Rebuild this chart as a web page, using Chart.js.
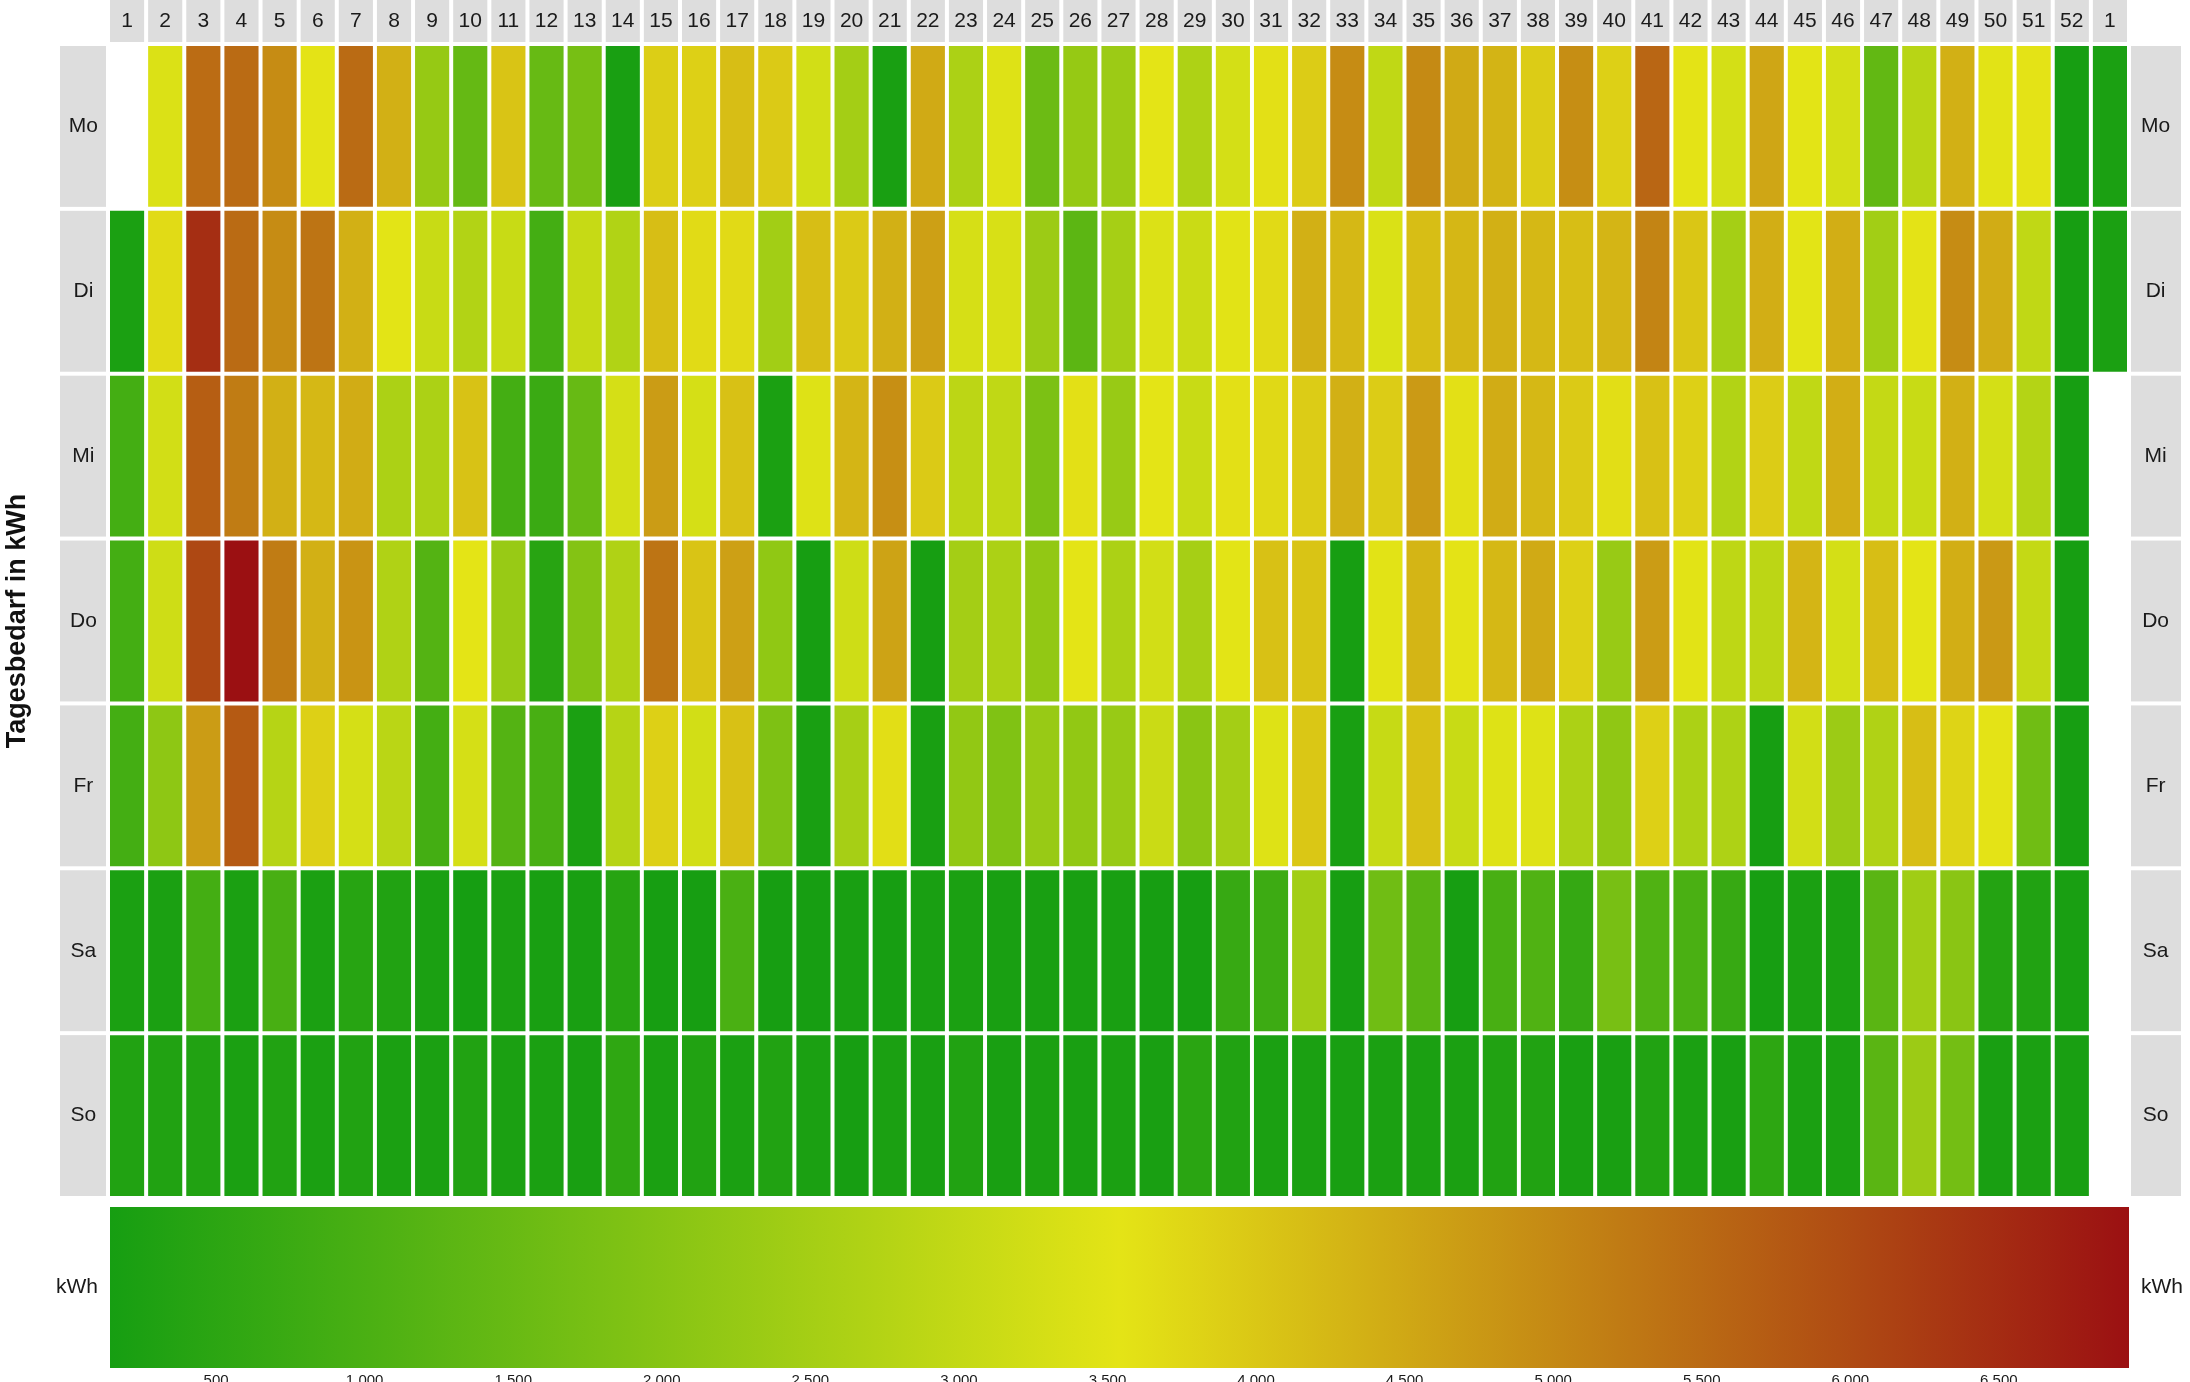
<!DOCTYPE html>
<html>
<head>
<meta charset="utf-8">
<title>Tagesbedarf in kWh</title>
<script src="https://cdn.jsdelivr.net/npm/chart.js@4.4.1/dist/chart.umd.min.js"></script>
<style>
  body { margin: 0; background: #fff; }
  #wrap { position: relative; width: 2190px; height: 1382px; overflow: hidden; }
  #heatChart { position: absolute; left: 0; top: 0; }
  #barChart { position: absolute; left: 0; top: 1198px; }
</style>
</head>
<body>
<div id="wrap">
  <canvas id="heatChart" width="2190" height="1198"></canvas>
  <canvas id="barChart" width="2190" height="184"></canvas>
</div>
<script>
// Kalenderwochen (die letzte Spalte ist KW 1 des Folgejahres)
const weeks = ['1','2','3','4','5','6','7','8','9','10','11','12','13','14','15','16','17','18','19','20',
  '21','22','23','24','25','26','27','28','29','30','31','32','33','34','35','36','37','38','39','40',
  '41','42','43','44','45','46','47','48','49','50','51','52','1'];
const days = ['Mo', 'Di', 'Mi', 'Do', 'Fr', 'Sa', 'So'];

// Tagesbedarf in kWh je Wochentag und KW (null = kein Wert)
const kwhMo = [null,3400,5460,5480,4950,3560,5480,4370,2250,1450, 4050,1480,1750,200,3900,3860,4150,3950,3240,2480,
  200,4470,2620,3440,1560,2250,2350,3540,2650,3280, 3600,3920,4950,2950,4980,4470,4310,3920,4920,3860,
  5560,3560,3280,4530,3520,3280,1400,2820,4370,3500, 3560,160,230];
const kwhDi = [220,3680,6450,5480,4950,5340,4370,3520,3080,2720, 3080,900,3050,2700,4150,3680,3700,2450,4150,3950,
  4370,4630,3310,3340,2350,1300,2520,3410,3110,3500, 3700,4370,4250,3380,4150,4260,4370,4250,4150,4300,
  5080,4020,2500,4400,3520,4400,2450,3560,4950,4430, 2950,160,230];
const kwhMi = [900,3240,5690,5210,4370,4250,4430,2620,2620,4080, 900,740,1480,3300,4690,3300,4100,220,3440,4300,
  4900,3950,2880,2950,1820,3600,2280,3540,3080,3600, 3720,3920,4370,3920,4720,3600,4430,4250,3950,3640,
  4100,3860,2720,3920,2950,4400,3010,3080,4370,3280, 2750,160,null];
const kwhDo = [900,3180,6040,6938,5210,4370,4820,2690,1170,3540, 2280,440,1960,2690,5340,4060,4630,2160,160,3180,
  4590,160,2480,2620,2190,3540,2620,3240,2520,3520, 4100,4060,160,3500,4300,3560,4250,4470,3860,2280,
  4690,3500,2910,2880,4300,3280,4150,3540,4400,4740, 3010,160,null];
const kwhFr = [900,2120,4690,5750,2780,3860,3300,2850,900,3300, 1170,970,220,2780,3860,3240,4100,1850,190,2520,
  3640,190,2190,1890,2280,2190,2280,3110,2060,2480, 3440,4000,190,3040,4100,3080,3440,3440,2620,2150,
  3860,2620,2650,160,3240,2350,2690,4150,3800,3560, 1630,160,null];
const kwhSa = [220,220,900,220,970,220,420,330,220,143, 220,190,190,420,160,160,1000,160,160,190,
  160,190,220,190,190,190,190,160,160,680, 780,2450,160,1630,1230,160,970,1100,650,1760,
  1100,1000,680,160,220,220,1260,2420,2060,380, 330,190,null];
const kwhSo = [330,330,330,220,330,220,330,220,220,330, 220,220,190,560,220,330,220,330,220,160,
  220,190,330,190,220,190,220,200,480,330, 220,220,190,220,220,220,330,330,190,190,
  330,220,190,520,220,220,1260,2350,1690,190, 220,190,null];

// Beschriftung der Farbskala
const colorTicks = [500, 1000, 1500, 2000, 2500, 3000, 3500, 4000, 4500, 5000, 5500, 6000, 6500];

const rows = [kwhMo, kwhDi, kwhMi, kwhDo, kwhFr, kwhSa, kwhSo];
const allValues = rows.flat().filter(v => v !== null);
const minKwh = Math.min(...allValues);
const maxKwh = Math.max(...allValues);

// Farbverlauf gruen -> gelb -> rot
const green = [22, 158, 18];
const yellow = [228, 228, 22];
const red = [155, 16, 18];

function mix(a, b, t) {
  const c = a.map((v, i) => Math.round(v + (b[i] - v) * t));
  return `rgb(${c[0]}, ${c[1]}, ${c[2]})`;
}

function kwhColor(v) {
  const t = (v - minKwh) / (maxKwh - minKwh);
  return t < 0.5 ? mix(green, yellow, t * 2) : mix(yellow, red, (t - 0.5) * 2);
}

function formatDe(v) {
  return String(v).replace(/\B(?=(\d{3})+(?!\d))/g, '.');
}

Chart.defaults.font.family = '"Liberation Sans", Arial, sans-serif';
Chart.defaults.color = '#1a1a1a';

const labelFont = { size: 21 };
const noGrid = { display: false, drawTicks: false };

// graue Kaesten hinter Wochen- und Tagesbeschriftung
const labelBoxes = {
  id: 'labelBoxes',
  beforeDraw(chart) {
    const { ctx, chartArea, scales: { x, y } } = chart;
    const half = (x.getPixelForValue(1) - x.getPixelForValue(0)) / 2;
    ctx.save();
    ctx.fillStyle = '#dddddd';
    weeks.forEach((_, i) => {
      const cx = x.getPixelForValue(i);
      ctx.fillRect(cx - half + 2, 0, 2 * half - 4, chartArea.top - 2);
    });
    days.forEach((_, d) => {
      const top = y.getPixelForValue(d) + 2;
      const bottom = y.getPixelForValue(d + 1) - 2;
      ctx.fillRect(chartArea.left - 48, top, 46, bottom - top);
      ctx.fillRect(chartArea.right + 2, top, 50, bottom - top);
    });
    ctx.restore();
  }
};

function dayAxis(position, width, padding, withTitle) {
  return {
    type: 'linear',
    position: position,
    min: 0,
    max: 7,
    reverse: true,
    grid: noGrid,
    border: { display: false },
    afterBuildTicks: s => { s.ticks = days.map((_, i) => ({ value: i + 0.5 })); },
    ticks: {
      callback: v => days[Math.floor(v)],
      crossAlign: 'center',
      padding: padding,
      font: labelFont,
      autoSkip: false
    },
    title: {
      display: withTitle,
      text: 'Tagesbedarf in kWh',
      color: '#111',
      font: { size: 27, weight: 'bold' },
      padding: { top: 1, bottom: 0 }
    },
    afterFit: s => { s.width = width; s.paddingTop = 0; s.paddingBottom = 0; }
  };
}

const heatDatasets = rows.map((row, d) => ({
  label: days[d],
  data: row.map(v => v === null ? null : [d, d + 1]),
  backgroundColor: row.map(v => v === null ? 'rgba(0,0,0,0)' : kwhColor(v)),
  borderColor: '#ffffff',
  borderWidth: 2,
  borderSkipped: false,
  inflateAmount: 0,
  grouped: false,
  barPercentage: 1,
  categoryPercentage: 1
}));

new Chart(document.getElementById('heatChart'), {
  type: 'bar',
  data: { labels: weeks, datasets: heatDatasets },
  options: {
    responsive: false,
    animation: false,
    layout: { padding: 0 },
    plugins: { legend: { display: false }, tooltip: { enabled: false } },
    scales: {
      x: {
        type: 'category',
        position: 'top',
        grid: noGrid,
        border: { display: false },
        ticks: { font: labelFont, padding: 10, maxRotation: 0, autoSkip: false },
        afterFit: s => { s.height = 44; s.paddingLeft = 0; s.paddingRight = 0; }
      },
      y: dayAxis('left', 108, 10, true),
      yRight: dayAxis('right', 61, 12, false)
    }
  },
  plugins: [labelBoxes]
});

// Farbskala unten
new Chart(document.getElementById('barChart'), {
  type: 'bar',
  data: {
    labels: ['kWh'],
    datasets: [{
      data: [[minKwh, maxKwh]],
      backgroundColor: c => {
        const { chart } = c;
        if (!chart.chartArea) return 'rgba(0,0,0,0)';
        const x0 = chart.scales.x.getPixelForValue(minKwh);
        const x1 = chart.scales.x.getPixelForValue(maxKwh);
        const g = chart.ctx.createLinearGradient(x0, 0, x1, 0);
        g.addColorStop(0, kwhColor(minKwh));
        g.addColorStop(0.5, kwhColor((minKwh + maxKwh) / 2));
        g.addColorStop(1, kwhColor(maxKwh));
        return g;
      },
      borderWidth: 0,
      inflateAmount: 0,
      barPercentage: 1,
      categoryPercentage: 1
    }]
  },
  options: {
    indexAxis: 'y',
    responsive: false,
    animation: false,
    layout: { padding: { top: 9 } },
    plugins: { legend: { display: false }, tooltip: { enabled: false } },
    scales: {
      x: {
        type: 'linear',
        position: 'bottom',
        min: minKwh,
        max: maxKwh,
        grid: noGrid,
        border: { display: false },
        afterBuildTicks: s => { s.ticks = colorTicks.map(v => ({ value: v })); },
        ticks: { callback: v => formatDe(v), font: { size: 15 }, padding: 4, maxRotation: 0, autoSkip: false },
        afterFit: s => { s.height = 14; s.paddingLeft = 0; s.paddingRight = 0; }
      },
      y: {
        type: 'category',
        position: 'left',
        grid: noGrid,
        border: { display: false },
        ticks: { font: labelFont, crossAlign: 'center', padding: 12 },
        afterFit: s => { s.width = 110; s.paddingTop = 0; s.paddingBottom = 0; }
      },
      yRight: {
        type: 'category',
        position: 'right',
        grid: noGrid,
        border: { display: false },
        ticks: { font: labelFont, crossAlign: 'center', padding: 12 },
        afterFit: s => { s.width = 61; s.paddingTop = 0; s.paddingBottom = 0; }
      }
    }
  }
});
</script>
</body>
</html>
